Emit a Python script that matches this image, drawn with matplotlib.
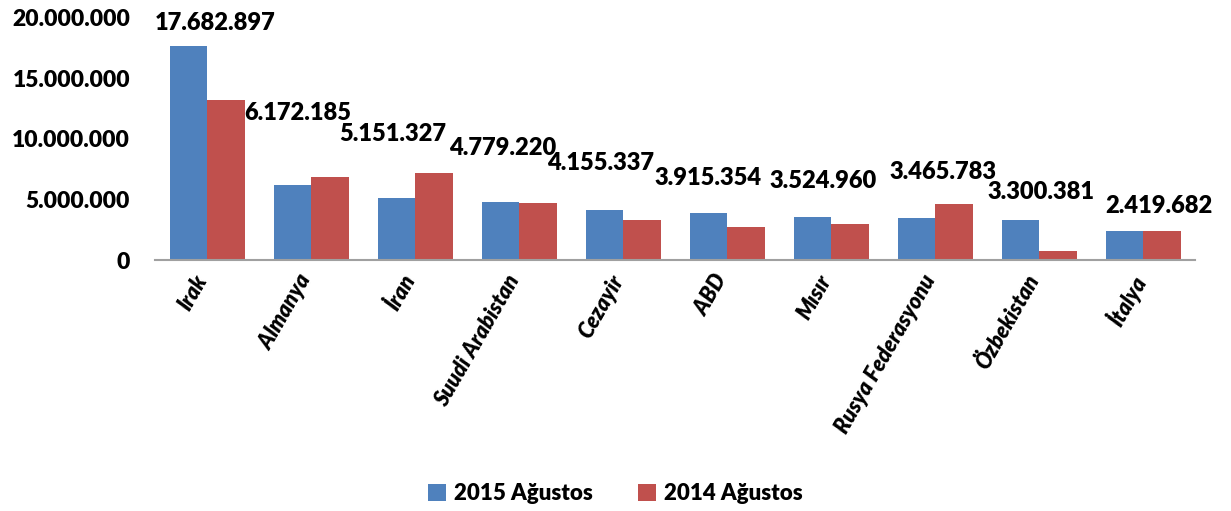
import matplotlib.pyplot as plt
import matplotlib.transforms as mtransforms
import numpy as np
from matplotlib.ticker import FuncFormatter

countries = ["Irak", "Almanya", "İran", "Suudi Arabistan", "Cezayir", "ABD",
             "Mısır", "Rusya Federasyonu", "Özbekistan", "İtalya"]
aug_2015 = [17682897, 6172185, 5151327, 4779220, 4155337, 3915354,
            3524960, 3465783, 3300381, 2419682]
aug_2014 = [13200000, 6860000, 7190000, 4710000, 3300000, 2730000,
            2980000, 4630000, 740000, 2400000]

# label placement (Excel labels were dragged around by hand)
label_dx = [0.08, -0.13, -0.22, -0.16, -0.22, -0.18, -0.08, 0.07, 0.02, 0.15]
label_y = [19.59e6, 12.15e6, 10.41e6, 9.26e6, 8.02e6, 6.78e6, 6.53e6,
           7.27e6, 5.62e6, 4.46e6]

plt.rcParams["font.family"] = ["Lato", "DejaVu Sans"]
plt.rcParams["font.weight"] = "heavy"

fig = plt.figure(figsize=(12.31, 5.11), dpi=100)
ax = fig.add_axes([0.126, 0.491, 0.845, 0.474])

x = np.arange(len(countries))
w = 0.36
ax.bar(x - w / 2, aug_2015, w, color="#4F81BD", label="2015 Ağustos")
ax.bar(x + w / 2, aug_2014, w, color="#C0504D", label="2014 Ağustos")

for i, v in enumerate(aug_2015):
    ax.text(x[i] + label_dx[i], label_y[i], f"{v:,}".replace(",", "."),
            ha="center", va="center", fontsize=17, fontweight="heavy")

ax.set_xlim(-0.5, len(countries) - 0.5)
ax.set_ylim(0, 20e6)
ax.set_yticks(np.arange(0, 20e6 + 1, 5e6))
ax.yaxis.set_major_formatter(FuncFormatter(lambda v, p: f"{int(v):,}".replace(",", ".")))
ax.tick_params(axis="y", length=0, labelsize=16.5, pad=18)
ax.tick_params(axis="x", length=0, labelsize=15.5, pad=8)
ax.set_xticks(x)
ax.set_xticklabels(countries, rotation=60, ha="right", rotation_mode="anchor",
                   fontweight="heavy", style="italic")
shift = mtransforms.ScaledTranslation(-10 / 72, 0, fig.dpi_scale_trans)
for lbl in ax.get_xticklabels():
    lbl.set_transform(lbl.get_transform() + shift)
for lbl in ax.get_yticklabels():
    lbl.set_fontweight("heavy")

for s in ["top", "right", "left"]:
    ax.spines[s].set_visible(False)
ax.spines["bottom"].set_color("#A0A0A0")
ax.spines["bottom"].set_linewidth(1.5)

fig.legend(loc="lower center", bbox_to_anchor=(0.5, -0.025), ncol=2, frameon=False,
           prop={"size": 16, "weight": "heavy"}, handlelength=0.8, handleheight=0.8,
           columnspacing=2.0, handletextpad=0.4)

fig.savefig("out.png", dpi=100)
